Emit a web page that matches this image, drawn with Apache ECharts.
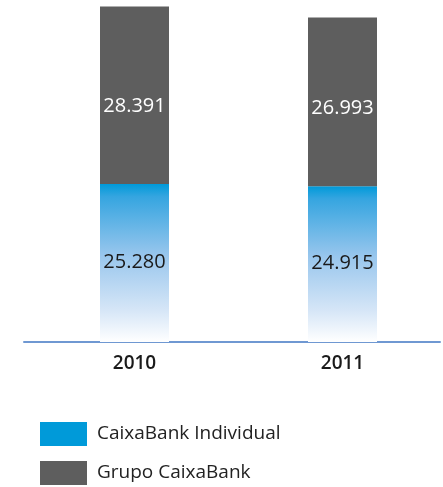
<!DOCTYPE html>
<html><head><meta charset="utf-8">
<script src="https://cdn.jsdelivr.net/npm/echarts@6/dist/echarts.min.js"></script>
<style>html,body{margin:0;padding:0;background:#fff}#c{width:443px;height:487px}</style>
</head><body><div id="c"></div>
<script>
const categories = ['2010', '2011'];
const individual = [25.280, 24.915];
const grupo = [28.391, 26.993];
const seriesNames = ['CaixaBank Individual', 'Grupo CaixaBank'];

const fmt = v => v.toFixed(3);
const chart = echarts.init(document.getElementById('c'));
const FONT = '"Open Sans", "Noto Sans", sans-serif';
const legendText = {fontSize: 19, color: '#222', fontFamily: FONT, padding: [0, 0, 0, 5]};
chart.setOption({
  animation: false,
  grid: [
    {left: 30.5, width: 416, top: 0, bottom: 145, outerBoundsMode: 'none', containLabel: false},
    {left: 24, right: 3, top: 0, bottom: 145, outerBoundsMode: 'none', containLabel: false}
  ],
  xAxis: [
    {type: 'category', data: categories, gridIndex: 0,
     axisLine: {show: false}, axisTick: {show: false},
     axisLabel: {color: '#1a1a1a', fontSize: 19, fontWeight: 600, fontFamily: FONT, margin: 12}},
    {type: 'category', data: categories, gridIndex: 1,
     axisLine: {show: true, lineStyle: {color: '#6f98d2', width: 2}}, axisTick: {show: false},
     axisLabel: {show: false}}
  ],
  yAxis: [
    {type: 'value', gridIndex: 0, min: 0, max: 54.72, show: false, splitLine: {show: false}},
    {type: 'value', gridIndex: 1, min: 0, max: 54.72, show: false, splitLine: {show: false}}
  ],
  legend: [
    {left: 40, top: 422, padding: 0, itemWidth: 47, itemHeight: 24, icon: 'rect', textStyle: legendText,
     data: [{name: seriesNames[0], itemStyle: {color: '#009ad9'}}]},
    {left: 40, top: 461, padding: 0, itemWidth: 47, itemHeight: 24, icon: 'rect', textStyle: legendText,
     data: [{name: seriesNames[1], itemStyle: {color: '#5e5e5e'}}]}
  ],
  series: [
    {name: seriesNames[0], type: 'bar', stack: 't', barWidth: 69, data: individual,
     itemStyle: {color: new echarts.graphic.LinearGradient(0, 0, 0, 1, [
       {offset: 0, color: '#009ad9'},
       {offset: 0.08, color: '#35a5e0'},
       {offset: 0.45, color: '#98c6ed'},
       {offset: 0.8, color: '#d6e6f7'},
       {offset: 1, color: '#ffffff'}
     ])},
     label: {show: true, position: 'inside', offset: [0, -1], formatter: p => fmt(p.value), color: '#1a1a1a', fontSize: 20, fontFamily: FONT}},
    {name: seriesNames[1], type: 'bar', stack: 't', barWidth: 69, data: grupo,
     itemStyle: {color: '#5e5e5e'},
     label: {show: true, position: 'insideBottom', distance: 68, formatter: p => fmt(p.value), color: '#ffffff', fontSize: 20, fontFamily: FONT}},
    {type: 'bar', xAxisIndex: 1, yAxisIndex: 1, data: [], silent: true}
  ]
});
</script></body></html>
